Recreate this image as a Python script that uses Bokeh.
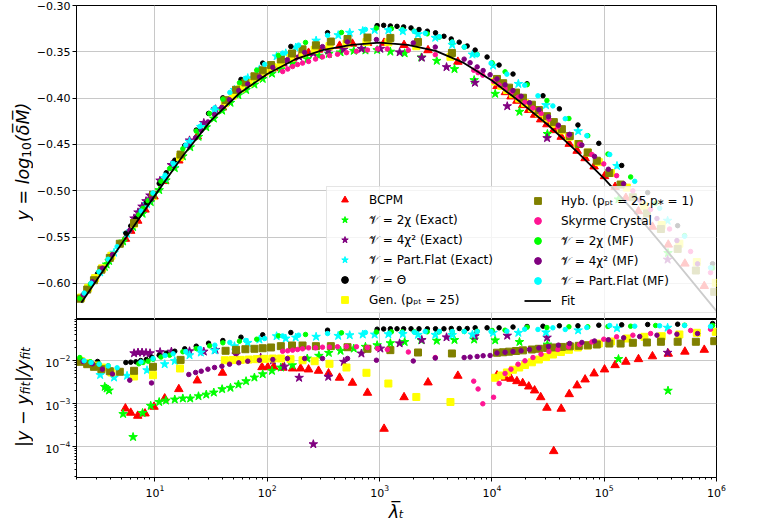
import math
from bokeh.plotting import figure
from bokeh.models import (Range1d, FixedTicker, LogTickFormatter, CustomJSTickFormatter,
                          Legend, LegendItem)
from bokeh.core.properties import value
from bokeh.layouts import column, row
from bokeh.embed import file_html
from bokeh.resources import INLINE

# ---------------- data ----------------
bcpm_x = [5.45, 6.08, 7.02, 8.15, 9.80, 12.2, 16.3, 23.8, 39.9, 89.7, 101, 114, 137, 168, 198, 233, 286, 351, 440, 573,
          780, 1096, 1651, 2698, 4977, 11100, 13200, 14800, 16700, 18800, 21300, 24000, 27200, 30900, 35500, 41400,
          48800, 57400, 67600, 81300, 100700, 125000, 156000, 202000, 269000, 372000, 523000, 778000]
bcpm_y = [-0.5519, -0.5433, -0.5324, -0.5204, -0.5062, -0.4896, -0.4674, -0.4413, -0.4101, -0.3752, -0.3710, -0.3677,
          -0.3627, -0.3571, -0.3537, -0.3511, -0.3477, -0.3452, -0.3435, -0.3413, -0.3405, -0.3403, -0.3427, -0.3483,
          -0.3608, -0.3870, -0.3936, -0.3982, -0.4029, -0.4076, -0.4128, -0.4180, -0.4230, -0.4283, -0.4346, -0.4418,
          -0.4494, -0.4569, -0.4649, -0.4738, -0.4843, -0.4959, -0.5077, -0.5221, -0.5389, -0.5582, -0.5787, -0.6029]
bcpm_r = [7.78e-4, 6.18e-4, 5.26e-4, 5.94e-4, 8.51e-4, 1.33e-3, 2.19e-3, 3.48e-3, 5.26e-3, 7.10e-3, 7.10e-3, 7.24e-3,
          6.88e-3, 6.62e-3, 6.62e-3, 6.28e-3, 5.85e-3, 5.07e-3, 4.03e-3, 3.08e-3, 1.80e-3, 2.62e-4, 1.42e-3, 3.13e-3,
          4.48e-3, 4.55e-3, 4.03e-3, 3.81e-3, 3.35e-3, 3.02e-3, 2.52e-3, 2.04e-3, 1.42e-3, 8.07e-4, 7.91e-5, 7.66e-4,
          1.67e-3, 2.67e-3, 3.67e-3, 5.07e-3, 6.28e-3, 7.90e-3, 9.48e-3, 1.09e-2, 1.27e-2, 1.46e-2, 1.63e-2, 1.80e-2]

chi2ex_x = [3.57, 3.71, 3.90, 5.20, 6.38, 7.75, 9.16, 10.9, 12.5, 15.0, 17.7, 20.6, 24.4, 28.6, 33.4, 39.6, 47.0, 55.3,
            64.7, 76.8, 91.0, 110, 132, 167, 227, 288, 353, 449, 589, 748, 951, 1247, 1671, 2350, 3228, 4645, 6950,
            10700, 17600, 31200, 134000, 370000]
chi2ex_y = [-0.5822, -0.5796, -0.5758, -0.5547, -0.5392, -0.5248, -0.5122, -0.4993, -0.4887, -0.4755, -0.4628, -0.4530,
            -0.4417, -0.4314, -0.4220, -0.4135, -0.4050, -0.3969, -0.3912, -0.3853, -0.3792, -0.3735, -0.3688, -0.3625,
            -0.3578, -0.3542, -0.3522, -0.3506, -0.3489, -0.3485, -0.3481, -0.3498, -0.3516, -0.3560, -0.3597, -0.3686,
            -0.3805, -0.3953, -0.4147, -0.4386, -0.5093, -0.5672]
chi2ex_r = [2.48e-3, 2.27e-3, 2.04e-3, 5.80e-4, 1.69e-4, 6.11e-4, 8.97e-4, 1.10e-3, 1.19e-3, 1.26e-3, 1.33e-3, 1.33e-3,
            1.50e-3, 1.64e-3, 1.83e-3, 2.19e-3, 2.36e-3, 2.81e-3, 3.36e-3, 4.09e-3, 4.88e-3, 5.85e-3, 6.98e-3, 7.91e-3,
            0.0113, 0.0131, 0.0153, 0.0171, 0.0193, 0.0212, 0.0231, 0.0257, 0.0274, 0.0301, 0.0293, 0.0305, 0.0313,
            0.0300, 0.0274, 0.0239, 0.0110, 2.02e-3]

chisqex_x = [6.51, 7.06, 7.67, 8.32, 9.03, 11.1, 14.0, 20.3, 27.2, 34.6, 52.7, 87.3, 112, 142, 192, 257, 349, 480, 689,
             1016, 1507, 2377, 3945, 7063, 13700, 31000, 367000]
chisqex_y = [-0.5298, -0.5233, -0.5170, -0.5112, -0.5050, -0.4889, -0.4722, -0.4456, -0.4268, -0.4120, -0.3926, -0.3745,
             -0.3671, -0.3616, -0.3553, -0.3516, -0.3486, -0.3473, -0.3467, -0.3467, -0.3505, -0.3563, -0.3665, -0.3834,
             -0.4087, -0.4431, -0.5743]
chisqex_r = [0.0150, 0.0156, 0.0156, 0.0153, 0.0150, 0.0160, 0.0164, 0.0167, 0.0164, 0.0180, 0.0140, 0.0119, 0.0102,
             0.00736, 0.00403, 1.15e-4, 0.00425, 0.00948, 0.0148, 0.0193, 0.0255, 0.0305, 0.0352, 0.0375, 0.0385,
             0.0347, 0.0154]

pfex_x = [3.25, 4.32, 5.64, 8.49, 12.2, 15.0, 20.3, 25.6, 33.9, 51.0, 67.0, 85.1, 121, 146, 179, 272, 428, 542, 708, 904,
          1197, 1611, 2198, 3133, 4433, 6714, 10250, 17200, 30300, 58600, 130000, 367000]
pfex_y = [-0.5881, -0.5668, -0.5463, -0.5144, -0.4861, -0.4702, -0.4471, -0.4310, -0.4132, -0.3911, -0.3784, -0.3690,
          -0.3549, -0.3516, -0.3454, -0.3379, -0.3320, -0.3294, -0.3275, -0.3265, -0.3266, -0.3277, -0.3310, -0.3348,
          -0.3424, -0.3529, -0.3648, -0.3846, -0.4075, -0.4357, -0.4732, -0.5323]
pfex_r = [0.00468, 0.00409, 0.00448, 0.00604, 0.00834, 0.00989, 0.0135, 0.0156, 0.0174, 0.0219, 0.0262, 0.0313, 0.0373,
          0.0330, 0.0348, 0.0363, 0.0381, 0.0394, 0.0409, 0.0409, 0.0416, 0.0420, 0.0403, 0.0403, 0.0398, 0.0409,
          0.0450, 0.0448, 0.0460, 0.0512, 0.0573, 0.0589]

theta_x = [3.08, 5.50, 6.08, 6.75, 7.46, 8.37, 9.35, 10.9, 12.6, 15.0, 18.4, 23.3, 30.0, 40.2, 58.3, 91.0, 162, 344, 951,
           1087, 1247, 1429, 1637, 1905, 2244, 2661, 3148, 3741, 4345, 5117, 6026, 7096, 9057, 11590, 15420, 20560,
           28510, 39900, 58340, 89540, 143200, 243800, 450800, 922500]
theta_y = [-0.5895, -0.5458, -0.5380, -0.5300, -0.5220, -0.5130, -0.5039, -0.4921, -0.4805, -0.4670, -0.4512, -0.4345,
           -0.4165, -0.3997, -0.3798, -0.3622, -0.3442, -0.3293, -0.3217, -0.3214, -0.3221, -0.3225, -0.3231, -0.3242,
           -0.3259, -0.3277, -0.3295, -0.3332, -0.3361, -0.3396, -0.3437, -0.3481, -0.3556, -0.3643, -0.3740, -0.3845,
           -0.3974, -0.4116, -0.4290, -0.4488, -0.4727, -0.5020, -0.5377, -0.5788]
theta_r = [0.00964, 0.00912, 0.00927, 0.00948, 0.01016, 0.01072, 0.01213, 0.01349, 0.01503, 0.01671, 0.01901, 0.02188,
           0.02564, 0.02965, 0.0354, 0.04027, 0.0455, 0.05152, 0.0543, 0.0550, 0.0555, 0.0555, 0.0555, 0.0555, 0.0555,
           0.0555, 0.0555, 0.0555, 0.0564, 0.0564, 0.0564, 0.0585, 0.0585, 0.0585, 0.0611, 0.0628, 0.0638, 0.0652,
           0.0652, 0.0673, 0.0687, 0.0698, 0.0710, 0.0736]

gen_x = [2.20, 2.54, 2.93, 3.38, 4.09, 6.51, 9.60, 16.7, 41.9, 49.3, 58.0, 68.4, 80.5, 94.8, 112, 132, 161, 206, 264, 358,
         507, 764, 1197, 2123, 4276, 10700, 12100, 13600, 15400, 17500, 19700, 22700, 26200, 30300, 35000, 41200, 48500,
         58300, 71400, 89500, 115000, 159000, 228000, 325000, 467000, 668000, 986000]
gen_y = [-0.6153, -0.6048, -0.5943, -0.5838, -0.5702, -0.5356, -0.5058, -0.4637, -0.4056, -0.3974, -0.3897, -0.3837,
         -0.3777, -0.3717, -0.3667, -0.3623, -0.3568, -0.3517, -0.3478, -0.3438, -0.3411, -0.3394, -0.3398, -0.3440,
         -0.3554, -0.3821, -0.3867, -0.3913, -0.3958, -0.4005, -0.4052, -0.4109, -0.4164, -0.4220, -0.4278, -0.4348,
         -0.4417, -0.4495, -0.4588, -0.4691, -0.4809, -0.4966, -0.5163, -0.5370, -0.5572, -0.5770, -0.5994]
gen_r = [0.00979, 0.00880, 0.00778, 0.00698, 0.00535, 0.00432, 0.00463, 0.00662, 0.0103, 0.0104, 0.0105, 0.0107, 0.0109,
         0.0111, 0.0113, 0.0113, 0.0109, 0.0103, 0.00979, 0.00851, 0.00698, 0.00526, 0.00296, 0.00144, 0.00110,
         0.00403, 0.00455, 0.00535, 0.00618, 0.00698, 0.00798, 0.00923, 0.0107, 0.0122, 0.0140, 0.0160, 0.0180,
         0.0204, 0.0227, 0.0252, 0.0281, 0.0330, 0.0361, 0.0373, 0.0409, 0.0448, 0.0472]

hyb_x = [2.17, 2.49, 2.86, 3.33, 3.96, 4.86, 6.51, 9.60, 16.9, 42.5, 52.7, 63.8, 76.8, 91.0, 108, 132, 166, 206, 271, 368,
         518, 780, 1247, 2198, 4406, 11100, 12600, 14200, 16400, 18900, 22700, 26200, 30900, 35600, 42000, 49400,
         59400, 71400, 85900, 111000, 140000, 180000, 240000, 320000, 451000, 655000, 955000]
hyb_y = [-0.6165, -0.6067, -0.5966, -0.5852, -0.5725, -0.5572, -0.5348, -0.5045, -0.4609, -0.4022, -0.3910, -0.3831,
         -0.3764, -0.3700, -0.3643, -0.3582, -0.3518, -0.3473, -0.3430, -0.3389, -0.3362, -0.3346, -0.3350, -0.3395,
         -0.3512, -0.3793, -0.3839, -0.3887, -0.3940, -0.3996, -0.4071, -0.4129, -0.4195, -0.4259, -0.4335, -0.4409,
         -0.4496, -0.4587, -0.4676, -0.4808, -0.4933, -0.5070, -0.5245, -0.5413, -0.5628, -0.5861, -0.6091]
hyb_r = [0.00948, 0.00834, 0.00724, 0.00638, 0.00573, 0.00555, 0.00585, 0.00724, 0.0105, 0.0171, 0.0180, 0.0186, 0.0190,
         0.0196, 0.0204, 0.0219, 0.0227, 0.0227, 0.0219, 0.0219, 0.0207, 0.0190, 0.0177, 0.0156, 0.0148, 0.0154,
         0.0158, 0.0163, 0.0169, 0.0175, 0.0183, 0.0190, 0.0199, 0.0204, 0.0210, 0.0217, 0.0223, 0.0229, 0.0239,
         0.0252, 0.0252, 0.0262, 0.0267, 0.0277, 0.0277, 0.0277, 0.0286]

sky_x = [137, 152, 168, 186, 206, 233, 269, 310, 358, 422, 507, 622, 780, 957, 1172, 1803, 3133, 6887, 7534, 8299, 10350,
         11600, 13100, 14800, 17100, 19700, 23200, 27400, 32200, 38700, 48200, 60400, 77600, 99100, 129000, 180000,
         259000, 382000, 588000, 885000]
sky_y = [-0.3713, -0.3686, -0.3659, -0.3637, -0.3622, -0.3604, -0.3578, -0.3555, -0.3540, -0.3526, -0.3509, -0.3494,
         -0.3481, -0.3468, -0.3469, -0.3482, -0.3531, -0.3699, -0.3725, -0.3752, -0.3819, -0.3858, -0.3898, -0.3942,
         -0.3990, -0.4044, -0.4107, -0.4167, -0.4229, -0.4309, -0.4400, -0.4497, -0.4608, -0.4710, -0.4837, -0.5001,
         -0.5202, -0.5413, -0.5656, -0.5884]
sky_r = [0.0167, 0.0171, 0.0177, 0.0183, 0.0190, 0.0200, 0.0200, 0.0207, 0.0209, 0.0212, 0.0215, 0.0212, 0.0204, 0.0193,
         0.0183, 0.0160, 0.0119, 0.00336, 0.00221, 0.00100, 0.00142, 0.00296, 0.00507, 0.00638, 0.00834, 0.0100,
         0.0119, 0.0142, 0.0164, 0.0183, 0.0212, 0.0239, 0.0274, 0.0318, 0.0361, 0.0394, 0.0431, 0.0472, 0.0507, 0.0543]

chi2mf_x = [2.14, 2.66, 3.18, 3.83, 7.17, 7.82, 8.67, 9.60, 11.3, 13.5, 17.7, 23.3, 30.6, 40.2, 56.5, 80.5, 126, 219, 458,
            937, 1274, 1594, 2037, 2655, 3400, 4433, 5675, 7396, 10050, 13100, 20600, 30900, 48500, 71400, 108000,
            172000, 287000, 520000, 923000]
chi2mf_y = [-0.6161, -0.6008, -0.5875, -0.5740, -0.5260, -0.5190, -0.5108, -0.5027, -0.4898, -0.4760, -0.4547, -0.4356,
            -0.4166, -0.4011, -0.3835, -0.3698, -0.3537, -0.3399, -0.3291, -0.3244, -0.3250, -0.3259, -0.3278, -0.3306,
            -0.3341, -0.3395, -0.3449, -0.3529, -0.3619, -0.3716, -0.3855, -0.4026, -0.4220, -0.4405, -0.4604, -0.4851,
            -0.5136, -0.5484, -0.5834]
chi2mf_r = [0.0119, 0.00948, 0.00843, 0.00765, 0.00851, 0.00913, 0.00979, 0.0109, 0.0122, 0.0135, 0.0162, 0.0193,
            0.0223, 0.0262, 0.0286, 0.0318, 0.0381, 0.0409, 0.0448, 0.0468, 0.0472, 0.0472, 0.0472, 0.0472, 0.0472,
            0.0480, 0.0480, 0.0488, 0.0507, 0.0515, 0.0604, 0.0594, 0.0618, 0.0618, 0.0628, 0.0638, 0.0662, 0.0673,
            0.0662]

chisqmf_x = [2.29, 2.77, 3.40, 4.18, 5.96, 9.31, 20.0, 23.0, 25.8, 29.6, 33.9, 39.4, 46.1, 55.7, 67.0, 85.1, 112, 151,
             215, 310, 518, 937, 1995, 3133, 5662, 6397, 7396, 8356, 9640, 11100, 13100, 15400, 18200, 21600, 26200,
             31900, 39100, 49200, 63300, 82000, 109000, 149000, 207000, 295000, 444000, 678000]
chisqmf_y = [-0.6123, -0.5982, -0.5837, -0.5689, -0.5427, -0.5089, -0.4519, -0.4427, -0.4350, -0.4257, -0.4176,
             -0.4099, -0.4017, -0.3919, -0.3848, -0.3770, -0.3669, -0.3585, -0.3507, -0.3444, -0.3394, -0.3368, -0.3404,
             -0.3449, -0.3579, -0.3618, -0.3663, -0.3702, -0.3747, -0.3793, -0.3856, -0.3918, -0.3980, -0.4050,
             -0.4125, -0.4201, -0.4292, -0.4391, -0.4507, -0.4629, -0.4768, -0.4925, -0.5101, -0.5300, -0.5538,
             -0.5789]
chisqmf_r = [0.00964, 0.00851, 0.00638, 0.00493, 0.00354, 0.00305, 0.00480, 0.00535, 0.00573, 0.00638, 0.00698,
             0.00748, 0.00834, 0.00898, 0.00979, 0.0103, 0.0107, 0.0113, 0.0113, 0.0113, 0.0113, 0.0103, 0.00989,
             0.0116, 0.0119, 0.0122, 0.0126, 0.0131, 0.0133, 0.0152, 0.0158, 0.0164, 0.0171, 0.0183, 0.0199, 0.0215,
             0.0231, 0.0253, 0.0267, 0.0289, 0.0308, 0.0343, 0.0367, 0.0394, 0.0416, 0.0431]

pfmf_x = [2.34, 2.70, 3.18, 3.83, 4.60, 7.51, 9.60, 12.3, 14.5, 18.8, 25.1, 34.1, 46.4, 64.3, 94.8, 137, 190, 344, 748,
          1222, 1594, 2037, 2551, 3400, 4433, 5675, 7396, 9840, 13600, 19600, 25700, 34900, 45000, 70000, 112000,
          187000, 312000, 520000, 885000]
pfmf_y = [-0.6105, -0.5998, -0.5876, -0.5740, -0.5604, -0.5219, -0.5025, -0.4832, -0.4705, -0.4507, -0.4307, -0.4105,
          -0.3939, -0.3785, -0.3635, -0.3514, -0.3428, -0.3322, -0.3258, -0.3264, -0.3264, -0.3281, -0.3300, -0.3338,
          -0.3395, -0.3449, -0.3532, -0.3622, -0.3741, -0.3860, -0.3975, -0.4084, -0.4222, -0.4406, -0.4609, -0.4898,
          -0.5189, -0.5491, -0.5831]
pfmf_r = [0.0100, 0.00913, 0.00833, 0.00757, 0.00688, 0.00938, 0.0113, 0.0133, 0.0146, 0.0164, 0.0193, 0.0231, 0.0267,
          0.0297, 0.0330, 0.0378, 0.0394, 0.0431, 0.0455, 0.0425, 0.0455, 0.0462, 0.0480, 0.0480, 0.0480, 0.0480,
          0.0480, 0.0480, 0.0488, 0.0543, 0.0535, 0.0585, 0.0535, 0.0594, 0.0662, 0.0638, 0.0652, 0.0662, 0.0628]

fit_x = [2.21, 3.16, 5.62, 10, 17.8, 31.6, 56.2, 100, 178, 316, 562, 1000, 1778, 3162, 5623, 10000, 17783, 31623,
         56234, 100000, 177828, 316228, 562341, 1000000]
fit_y = [-0.621, -0.593, -0.549, -0.505, -0.462, -0.424, -0.395, -0.374, -0.358, -0.348, -0.3425, -0.340, -0.3425,
         -0.349, -0.362, -0.381, -0.404, -0.429, -0.457, -0.487, -0.520, -0.556, -0.593, -0.630]

V = "\U0001D4B1"
labels = ["BCPM", V + " = 2\u03c7 (Exact)", V + " = 4\u03c7\u00b2 (Exact)", V + " = Part.Flat (Exact)",
          V + " = \u0398", "Gen. (p\u209a\u209c = 25)",
          "Hyb. (p\u209a\u209c = 25,p\u204e = 1)", "Skyrme Crystal", V + " = 2\u03c7 (MF)",
          V + " = 4\u03c7\u00b2 (MF)", V + " = Part.Flat (MF)", "Fit"]

y_ticks = [-0.60, -0.55, -0.50, -0.45, -0.40, -0.35, -0.30]
x_ticks = [10, 100, 1e3, 1e4, 1e5, 1e6]
r_ticks = [1e-4, 1e-3, 1e-2]

# ---------------- styling ----------------
FONT = "DejaVu Sans"
TICK = "11px"
LEG = "12px"
LAB = "17.5px"
SUB = "12.25px"
GRID = "#c8c8c8"
LW = 33          # width of the strip holding the y-axis titles
W = 727          # width of each panel figure

series = [
    (bcpm_x, bcpm_y, bcpm_r, "triangle", 8.5, "red"),
    (chi2ex_x, chi2ex_y, chi2ex_r, "star", 9, "#00ff00"),
    (chisqex_x, chisqex_y, chisqex_r, "star", 9, "#800080"),
    (pfex_x, pfex_y, pfex_r, "star", 9, "#00ffff"),
    (theta_x, theta_y, theta_r, "circle", 4.5, "black"),
    (gen_x, gen_y, gen_r, "square", 7, "#ffff00"),
    (hyb_x, hyb_y, hyb_r, "square", 7, "#808000"),
    (sky_x, sky_y, sky_r, "circle", 4.5, "#ff1493"),
    (chi2mf_x, chi2mf_y, chi2mf_r, "circle", 4.5, "#00ff00"),
    (chisqmf_x, chisqmf_y, chisqmf_r, "circle", 4.5, "#800080"),
    (pfmf_x, pfmf_y, pfmf_r, "circle", 4.5, "#00ffff"),
]

x_range = Range1d(2, 1e6)
minor_x = [k * 10 ** e for e in range(0, 6) for k in range(2, 10)]
minor_r = [k * 10 ** e for e in range(-5, -1) for k in range(2, 10)]

p1 = figure(width=W, height=319, x_axis_type="log", x_range=x_range, y_range=Range1d(-0.639, -0.30),
            output_backend="svg", toolbar_location=None, title=None,
            min_border_left=40, min_border_right=44, min_border_top=5, min_border_bottom=0)
p2 = figure(width=W, height=206, x_axis_type="log", y_axis_type="log", x_range=x_range,
            y_range=Range1d(1.93e-5, 0.0913), output_backend="svg", toolbar_location=None, title=None,
            min_border_left=40, min_border_right=44, min_border_top=0, min_border_bottom=48)

for p in (p1, p2):
    p.outline_line_color = "black"
    p.outline_line_width = 1
    p.outline_line_alpha = 1
    p.background_fill_color = "white"
    p.border_fill_color = "white"
    for g in (p.xgrid, p.ygrid):
        g.grid_line_color = GRID
        g.grid_line_width = 1
    for ax in (p.xaxis, p.yaxis):
        ax.axis_line_color = "black"
        ax.major_tick_line_color = "black"
        ax.minor_tick_line_color = "black"
        ax.major_tick_out = 4
        ax.major_tick_in = 0
        ax.minor_tick_out = 2
        ax.minor_tick_in = 0
        ax.major_label_text_font = FONT
        ax.major_label_text_font_size = TICK
        ax.major_label_text_color = "black"
        ax.major_label_standoff = 2

p1.xaxis.visible = False
p1.xgrid.ticker = FixedTicker(ticks=x_ticks)
p1.yaxis.ticker = FixedTicker(ticks=y_ticks)
p1.yaxis.minor_tick_line_color = None
p1.yaxis.formatter = CustomJSTickFormatter(
    code="return (tick < 0 ? '\u2212' : '') + Math.abs(tick).toFixed(2);")

p2.xaxis.ticker = FixedTicker(ticks=x_ticks, minor_ticks=minor_x)
p2.yaxis.ticker = FixedTicker(ticks=r_ticks, minor_ticks=minor_r)
p2.xaxis.formatter = LogTickFormatter()
p2.yaxis.formatter = LogTickFormatter()
p2.xaxis.major_label_standoff = 3
p2.xaxis.axis_label = "\u03bb\u0305\u209c"
p2.xaxis.axis_label_text_font = FONT
p2.xaxis.axis_label_text_font_size = LAB
p2.xaxis.axis_label_text_font_style = "italic"
p2.xaxis.axis_label_text_color = "black"
p2.xaxis.axis_label_standoff = 2

rends = []
for xs, ys, rs, mk, sz, col in series:
    r1 = p1.scatter(xs, ys, marker=mk, size=sz, fill_color=col, line_color=col, line_width=1)
    p2.scatter(xs, rs, marker=mk, size=sz, fill_color=col, line_color=col, line_width=1)
    rends.append(r1)
rends.append(p1.line(fit_x, fit_y, line_color="black", line_width=1.8))

common = dict(label_text_font=FONT, label_text_font_size=LEG, label_text_color="black",
              glyph_width=27, glyph_height=17, label_height=17, padding=4, spacing=3, margin=0)
leg_a = Legend(items=[LegendItem(label=labels[i], renderers=[rends[i]]) for i in range(6)],
               location=(250, 6), label_width=343, label_standoff=11,
               background_fill_color="white", background_fill_alpha=0.8,
               border_line_color="#cccccc", border_line_width=1, **common)
leg_b = Legend(items=[LegendItem(label=labels[i], renderers=[rends[i]]) for i in range(6, 12)],
               location=(444, 6), label_standoff=10,
               background_fill_alpha=0.0, border_line_alpha=0.0, **common)
p1.add_layout(leg_a)
p1.add_layout(leg_b)

# ---------------- strip with the y-axis titles (page pixel coordinates, y up) ----------------
H = 525
lf = figure(width=LW, height=H, x_range=Range1d(0, LW), y_range=Range1d(0, H),
            x_axis_location=None, y_axis_location=None, toolbar_location=None, title=None,
            output_backend="svg", min_border=0, min_border_left=0, min_border_right=0, min_border_top=0,
            min_border_bottom=0, outline_line_color=None)
lf.grid.visible = False
lf.background_fill_color = "white"
lf.border_fill_color = "white"

A = math.pi / 2
def vtext(x, y, t, size, style):
    lf.text(x=[x], y=[y], text=[t], angle=A, text_font=value(FONT), text_font_size=value(size),
            text_font_style=style, text_color="black", text_align="left", text_baseline="alphabetic")

# top: y = log10(dM)
vtext(22, 305, "y = log", LAB, "italic")
vtext(25.5, 367.8, "10", SUB, "normal")
vtext(22, 383.4, "(\u03b4\u0305M\u0305)", LAB, "italic")
# bottom: |y - y_fit| / y_fit
vtext(22, 78.6, "|y \u2212 y", LAB, "italic")
vtext(25.5, 131.0, "fit", SUB, "italic")
vtext(22, 143.5, "|/y", LAB, "italic")
vtext(25.5, 165.7, "fit", SUB, "italic")

layout = row(lf, column(p1, p2))
open("out.html", "w").write(file_html(layout, INLINE))
